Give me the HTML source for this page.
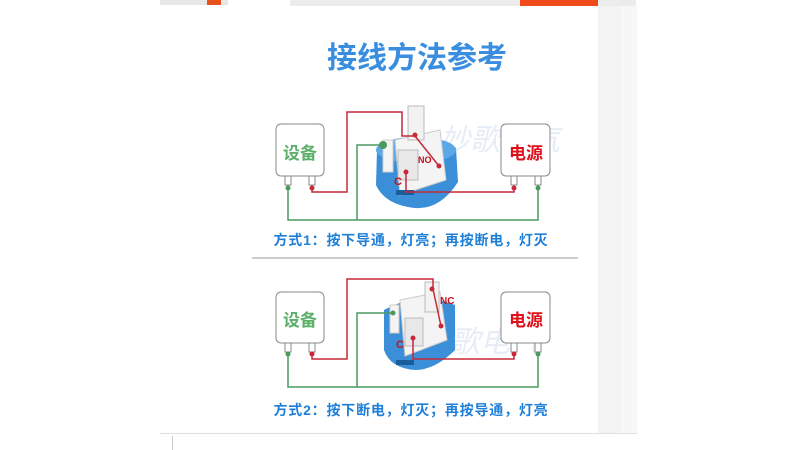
<!DOCTYPE html>
<html><head><meta charset="utf-8"><style>
body{margin:0;width:800px;height:450px;background:#fff;overflow:hidden;position:relative;font-family:"Liberation Sans","Noto Sans CJK SC",sans-serif}
svg{position:absolute;left:0;top:0}
</style></head><body>
<svg width="800" height="450" viewBox="0 0 800 450" font-family="Liberation Sans, Noto Sans CJK SC, sans-serif">
<rect x="160" y="0" width="68" height="5" fill="#e8e8e8"/>
<rect x="207" y="0" width="14" height="5" fill="#e8501e"/>
<rect x="290" y="0" width="346" height="6" fill="#ececec"/>
<rect x="520" y="0" width="78" height="6" fill="#f04a1a"/>
<rect x="598" y="6" width="23" height="427" fill="#f3f3f3"/>
<rect x="621" y="6" width="16" height="427" fill="#f7f7f7"/>
<line x1="160" y1="433.5" x2="637" y2="433.5" stroke="#e0e0e0"/>
<line x1="172.5" y1="436" x2="172.5" y2="450" stroke="#ccc"/>
<text x="417" y="68" font-size="30" font-weight="bold" fill="#3a8ee0" text-anchor="middle">接线方法参考</text>

<text x="440" y="150" font-size="30" fill="#e6edf7" font-style="italic">妙歌电气</text>
<path d="M377 150 Q415 125 456 148 L458 182 Q440 210 415 208 Q385 205 376 185 Z" fill="#3b8fd8"/>
<ellipse cx="416" cy="150" rx="40" ry="13" fill="#5aa8e8"/>
<path d="M395 140 L440 130 L446 180 L400 195 Z" fill="#f4f4f4" stroke="#ccc"/>
<rect x="408" y="106" width="16" height="34" fill="#f2f2f2" stroke="#bbb"/>
<rect x="398" y="150" width="20" height="30" fill="#e8e8e8" stroke="#bbb"/>
<rect x="383" y="140" width="10" height="32" fill="#f4f4f4" stroke="#ccc"/>
<rect x="396" y="190" width="18" height="5" fill="#1a5d9a"/>

<g stroke="#888" fill="#fff">
<rect x="276" y="124" width="48" height="52" rx="5"/>
<rect x="501" y="124" width="49" height="52" rx="5"/>
<rect x="285" y="176" width="6" height="9"/><rect x="309" y="176" width="6" height="9"/>
<rect x="511" y="176" width="6" height="9"/><rect x="535" y="176" width="6" height="9"/>
</g>
<text x="300" y="159" font-size="17" font-weight="bold" fill="#5cb06a" text-anchor="middle">设备</text>
<text x="526" y="159" font-size="17" font-weight="bold" fill="#e0101a" text-anchor="middle">电源</text>
<g fill="none" stroke-width="1.5">
<path d="M312 188 V192 H347 V112 H402 V136 H415 L439 166" stroke="#c8283a"/>
<path d="M406 172 V192 H514 V188" stroke="#c8283a"/>
<path d="M288 188 V220 H538 V188 M357 220 V145 H383" stroke="#4a9a5e"/>
</g>
<g fill="#c8283a"><circle cx="312" cy="188" r="2.5"/><circle cx="514" cy="188" r="2.5"/><circle cx="415" cy="135" r="2.5"/><circle cx="439" cy="166" r="2.5"/><circle cx="406" cy="172" r="2.5"/></g>
<g fill="#4a9a5e"><circle cx="288" cy="188" r="2.5"/><circle cx="538" cy="188" r="2.5"/><circle cx="383" cy="145" r="4"/></g>
<text x="418" y="163" font-size="9" font-weight="bold" fill="#c8101a">NO</text>
<text x="394" y="185" font-size="11" font-weight="bold" fill="#c8101a">C</text>
<text x="411" y="245" font-size="14" font-weight="bold" fill="#1e7fd8" text-anchor="middle" letter-spacing="0.8">方式1：按下导通，灯亮；再按断电，灯灭</text>
<line x1="252" y1="258" x2="578" y2="258" stroke="#bbb" stroke-width="1.5"/>

<text x="420" y="352" font-size="30" fill="#e6edf7" font-style="italic">妙歌电气</text>
<path d="M384 310 Q420 290 455 305 L455 350 Q435 370 415 370 Q390 368 384 350 Z" fill="#3b8fd8"/>
<path d="M400 300 L440 292 L447 340 L405 356 Z" fill="#f4f4f4" stroke="#ccc"/>
<rect x="425" y="282" width="14" height="30" fill="#f2f2f2" stroke="#bbb"/>
<rect x="405" y="318" width="18" height="28" fill="#e8e8e8" stroke="#bbb"/>
<rect x="390" y="305" width="9" height="28" fill="#f4f4f4" stroke="#ccc"/>
<rect x="396" y="360" width="18" height="5" fill="#1a5d9a"/>
<g stroke="#888" fill="#fff">
<rect x="276" y="292" width="48" height="51" rx="5"/>
<rect x="501" y="292" width="49" height="51" rx="5"/>
<rect x="285" y="343" width="6" height="9"/><rect x="309" y="343" width="6" height="9"/>
<rect x="511" y="343" width="6" height="9"/><rect x="535" y="343" width="6" height="9"/>
</g>
<text x="300" y="326" font-size="17" font-weight="bold" fill="#5cb06a" text-anchor="middle">设备</text>
<text x="526" y="326" font-size="17" font-weight="bold" fill="#e0101a" text-anchor="middle">电源</text>
<g fill="none" stroke-width="1.5">
<path d="M312 354 V359 H347 V279 H433 V289 L441 326" stroke="#c8283a"/>
<path d="M413 338 V359 H514 V354" stroke="#c8283a"/>
<path d="M288 354 V387 H538 V354 M357 387 V313 H393" stroke="#4a9a5e"/>
</g>
<g fill="#c8283a"><circle cx="312" cy="354" r="2.5"/><circle cx="514" cy="354" r="2.5"/><circle cx="432" cy="289" r="2.5"/><circle cx="441" cy="326" r="2.5"/><circle cx="413" cy="338" r="2.5"/></g>
<g fill="#4a9a5e"><circle cx="288" cy="354" r="2.5"/><circle cx="538" cy="354" r="2.5"/><circle cx="393" cy="313" r="2.5"/></g>
<text x="440" y="304" font-size="10" font-weight="bold" fill="#c8101a">NC</text>
<text x="396" y="348" font-size="11" font-weight="bold" fill="#c8101a">C</text>
<text x="411" y="415" font-size="14" font-weight="bold" fill="#1e7fd8" text-anchor="middle" letter-spacing="0.8">方式2：按下断电，灯灭；再按导通，灯亮</text>
</svg>
</body></html>
